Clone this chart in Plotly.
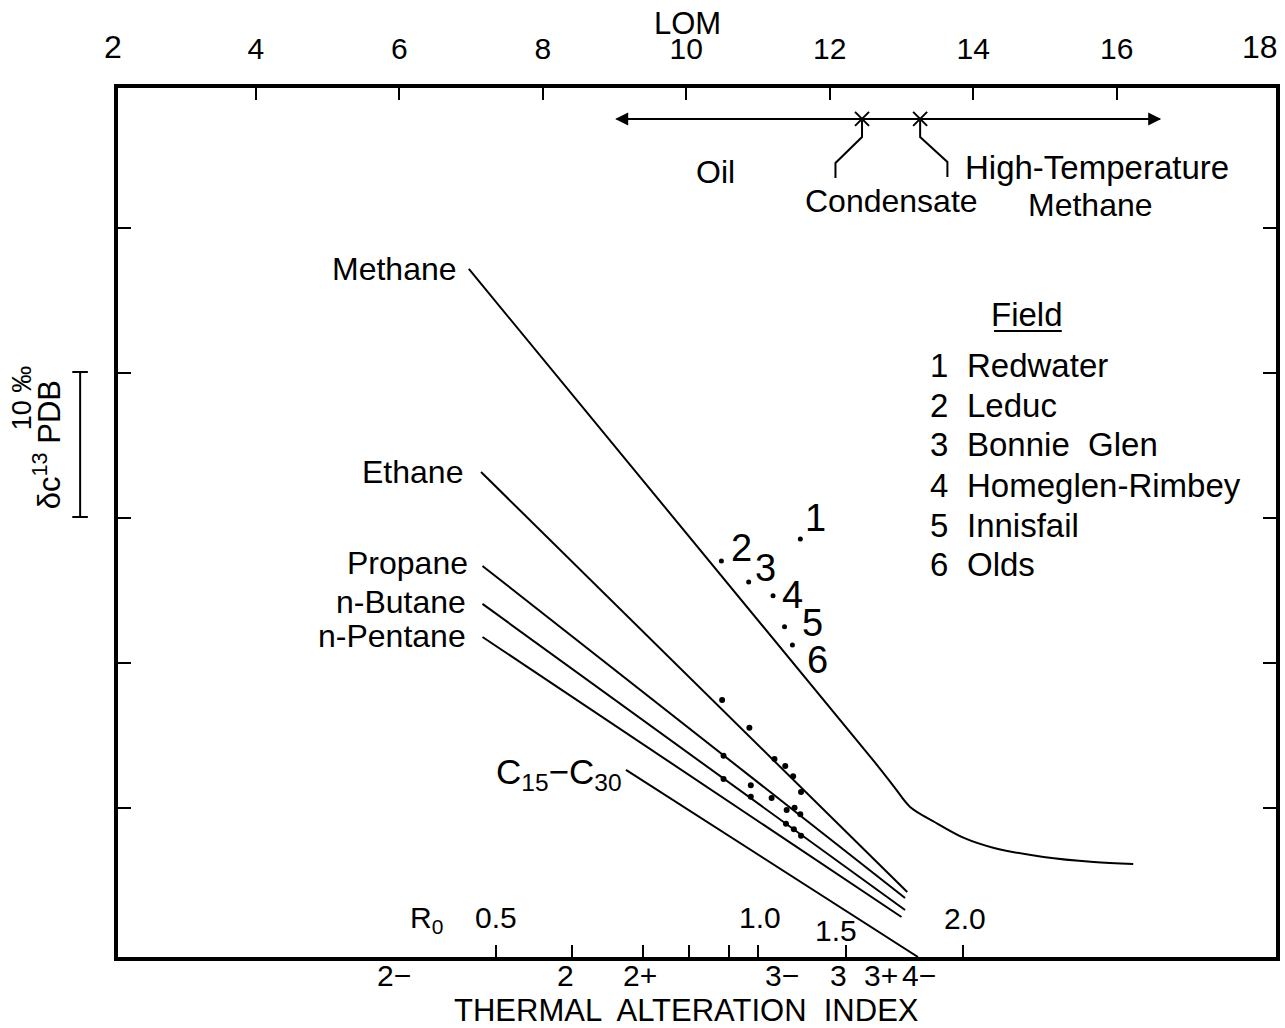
import plotly.graph_objects as go

FONT = "Liberation Sans, Arial, Helvetica, sans-serif"

# ---------------- data (x in LOM units, y in relative delta13C permil) ----------------
lom_tick_vals = [4, 6, 8, 10, 12, 14, 16]
lom_tick_text = ["4", "6", "8", "10", "12", "14", "16"]

ro_values = [0.5, 0.6, 0.7, 0.8, 0.9, 1.0, 1.5, 2.0]
ro_lom_pos = [7.35, 8.41, 9.40, 10.04, 10.59, 11.00, 12.22, 13.86]
ro_labels = ["0.5", "", "", "", "", "1.0", "1.5", "2.0"]

tai_labels = ["2−", "2", "2+", "3−", "3", "3+", "4−"]
tai_lom_pos = [5.93, 8.32, 9.36, 11.33, 12.12, 12.71, 13.24]

d13c_ticks = [10, 20, 30, 40, 50]

methane_x = [6.97, 12.66, 12.90, 13.12, 13.46, 13.87, 14.29, 14.98, 15.68, 16.23]
methane_y = [47.15, 12.94, 11.42, 10.05, 9.01, 7.91, 7.22, 6.60, 6.25, 6.11]
ethane_x = [7.14, 13.08]
ethane_y = [33.15, 4.18]
propane_x = [7.16, 13.05]
propane_y = [26.67, 3.77]
butane_x = [7.16, 13.05]
butane_y = [24.05, 2.94]
pentane_x = [7.16, 13.00]
pentane_y = [21.77, 2.46]
c15_x = [9.16, 13.23]
c15_y = [12.60, -0.3]

sample_x = [10.50, 10.88, 10.52, 11.23, 11.38, 11.49, 10.52, 10.90, 11.60,
            10.90, 11.19, 11.40, 11.51, 11.59, 11.39, 11.50, 11.60]
sample_y = [17.42, 15.51, 13.58, 13.36, 12.87, 12.16, 11.98, 11.54, 11.08,
            10.76, 10.67, 9.84, 10.00, 9.54, 8.89, 8.51, 8.07]

field_ids = ["1", "2", "3", "4", "5", "6"]
field_names = ["Redwater", "Leduc", "Bonnie  Glen", "Homeglen-Rimbey", "Innisfail", "Olds"]
field_x = [11.59, 10.49, 10.87, 11.21, 11.37, 11.48]
field_y = [28.53, 27.01, 25.56, 24.62, 22.48, 21.22]

# maturity zones along LOM
zone_arrow_x = [9.01, 16.62]
zone_y = 57.5
zone_bounds = [12.45, 13.26]
cond_bracket_x = [12.45, 12.45, 12.08, 12.08]
cond_bracket_y = [57.4, 56.25, 54.46, 53.42]
htm_bracket_x = [13.26, 13.26, 13.64, 13.64]
htm_bracket_y = [57.4, 56.25, 54.53, 53.49]

X_RANGE = [2.08, 18.22]
Y_RANGE = [-0.3, 59.63]

fig = go.Figure()

line_style = dict(color="black", width=2)
for xs, ys in [(methane_x, methane_y), (ethane_x, ethane_y), (propane_x, propane_y),
               (butane_x, butane_y), (pentane_x, pentane_y), (c15_x, c15_y)]:
    fig.add_trace(go.Scatter(x=xs, y=ys, mode="lines",
                             line=dict(line_style, shape="spline", smoothing=0.9),
                             hoverinfo="skip", cliponaxis=False))

fig.add_trace(go.Scatter(x=sample_x, y=sample_y, mode="markers",
                         marker=dict(color="black", size=6), hoverinfo="skip"))
fig.add_trace(go.Scatter(x=field_x, y=field_y, mode="markers",
                         marker=dict(color="black", size=5), hoverinfo="skip"))

# brackets and boundary marks of maturity zones
fig.add_trace(go.Scatter(x=cond_bracket_x, y=cond_bracket_y, mode="lines",
                         line=dict(color="black", width=2), hoverinfo="skip"))
fig.add_trace(go.Scatter(x=htm_bracket_x, y=htm_bracket_y, mode="lines",
                         line=dict(color="black", width=2), hoverinfo="skip"))
fig.add_trace(go.Scatter(x=zone_bounds, y=[zone_y, zone_y], mode="markers",
                         marker=dict(symbol="x-thin", size=14, line=dict(color="black", width=2)),
                         hoverinfo="skip"))

# dummy trace for the top axis
fig.add_trace(go.Scatter(x=[10], y=[30], xaxis="x2", mode="markers",
                         marker=dict(opacity=0), hoverinfo="skip"))

ann = []
# arrows
ann.append(dict(x=zone_arrow_x[0], y=zone_y, ax=zone_arrow_x[1], ay=zone_y, xref="x", yref="y",
                axref="x", ayref="y", text="", showarrow=True, arrowhead=2, arrowsize=1.3,
                arrowwidth=2, arrowcolor="black"))
ann.append(dict(x=zone_arrow_x[1], y=zone_y, ax=zone_arrow_x[0], ay=zone_y, xref="x", yref="y",
                axref="x", ayref="y", text="", showarrow=True, arrowhead=2, arrowsize=1.3,
                arrowwidth=2, arrowcolor="black"))


def txt(text, x, y, xref="x", yref="y", size=32, xanchor="center", yanchor="middle",
        xshift=0, yshift=0, angle=0):
    ann.append(dict(text=text, x=x, y=y, xref=xref, yref=yref, showarrow=False,
                    font=dict(size=size, family=FONT, color="black"), xanchor=xanchor,
                    yanchor=yanchor, xshift=xshift, yshift=yshift, textangle=angle))


txt("Oil", 10.41, 53.84)
txt("Condensate", 12.86, 51.84)
txt("High-Temperature", 15.72, 54.18, size=33)
txt("Methane", 15.64, 51.56)

# line labels
txt("Methane", methane_x[0], methane_y[0], xanchor="right", xshift=-10)
txt("Ethane", ethane_x[0], ethane_y[0], xanchor="right", xshift=-16)
txt("Propane", propane_x[0], propane_y[0], xanchor="right", xshift=-12, yshift=3)
txt("n-Butane", butane_x[0], butane_y[0], xanchor="right", xshift=-14, yshift=2)
txt("n-Pentane", pentane_x[0], pentane_y[0], xanchor="right", xshift=-14, yshift=1)
txt("C<sub>15</sub>−C<sub>30</sub>", c15_x[0], c15_y[0], size=35, xanchor="right",
    xshift=-2, yshift=-4)

# field numbers next to points
field_shift = [(15, 21), (20, 13), (17, 14), (19, 1), (28, 4), (25, -15)]
for fid, fx, fy, (sx, sy) in zip(field_ids, field_x, field_y, field_shift):
    txt(fid, fx, fy, size=38, xshift=sx, yshift=sy)

# legend
txt("Field", 0.7849, 0.7388, xref="paper", yref="paper", size=33)
leg_y = [0.6812, 0.6352, 0.5892, 0.5431, 0.4971, 0.4511]
for fid, name, ly in zip(field_ids, field_names, leg_y):
    txt(fid, 0.7091, ly, xref="paper", yref="paper", size=33)
    txt(name, 0.7315, ly, xref="paper", yref="paper", xanchor="left", size=33)

# LOM axis end labels
txt("2", 0.0, 1.0, xref="paper", yref="paper", yanchor="bottom", yshift=21, xshift=-5)
txt("18", 18.0, 1.0, yref="paper", yanchor="bottom", yshift=21)
txt("LOM", 10.02, 1.0, yref="paper", yanchor="middle", yshift=65, size=31)

# Ro labels (inside, above the bottom axis)
ro_shift = {"0.5": (0, 40), "1.0": (2, 40), "1.5": (-10, 27), "2.0": (2, 39)}
for lab, pos in zip(ro_labels, ro_lom_pos):
    if lab:
        sx, sy = ro_shift[lab]
        txt(lab, pos, 0.0, yref="paper", xshift=sx, yshift=sy, size=30)
txt("R<sub>0</sub>", 6.38, 0.0, yref="paper", yshift=38, size=30)

# TAI labels below axis
for lab, pos in zip(tai_labels, tai_lom_pos):
    txt(lab, pos, 0.0, yref="paper", yshift=-18, size=30)
txt("THERMAL  ALTERATION  INDEX", 10.0, 0.0, yref="paper", yshift=-53, size=31)

# y-axis scale label
txt("10 ‰", -0.0826, 0.6433, xref="paper", yref="paper", size=27, angle=-90)
txt("δc<sup>13</sup> PDB", -0.0611, 0.5892, xref="paper", yref="paper", size=31, angle=-90)

shapes = [
    dict(type="line", xref="paper", yref="paper", x0=-0.0327, x1=-0.0327, y0=0.5063, y1=0.6732,
         line=dict(color="black", width=2)),
    dict(type="line", xref="paper", yref="paper", x0=-0.0395, x1=-0.0260, y0=0.5063, y1=0.5063,
         line=dict(color="black", width=2)),
    dict(type="line", xref="paper", yref="paper", x0=-0.0395, x1=-0.0260, y0=0.6732, y1=0.6732,
         line=dict(color="black", width=2)),
    dict(type="line", xref="paper", yref="paper", x0=0.7565, x1=0.8150, y0=0.7204, y1=0.7204,
         line=dict(color="black", width=2)),
]

fig.update_layout(
    width=1285, height=1028,
    margin=dict(l=118, r=5, t=88, b=71, pad=0),
    paper_bgcolor="white", plot_bgcolor="white",
    showlegend=False,
    font=dict(family=FONT, size=30, color="black"),
    annotations=ann, shapes=shapes,
    xaxis=dict(range=X_RANGE, showgrid=False, zeroline=False, showline=True, linewidth=4,
               linecolor="black", ticks="inside", tickvals=ro_lom_pos, ticklen=12, tickwidth=2,
               tickcolor="black", showticklabels=False, mirror=False, fixedrange=True),
    xaxis2=dict(range=X_RANGE, overlaying="x", side="top", anchor="y", showgrid=False,
                zeroline=False, showline=True, linewidth=4, linecolor="black", ticks="inside",
                tickvals=lom_tick_vals, ticktext=lom_tick_text, ticklen=12, tickwidth=2,
                tickcolor="black", tickfont=dict(size=30, family=FONT, color="black"),
                ticklabelstandoff=13),
    yaxis=dict(range=Y_RANGE, showgrid=False, zeroline=False, showline=True, linewidth=4,
               linecolor="black", mirror="ticks", ticks="inside", tickvals=d13c_ticks,
               ticklen=13, tickwidth=2, tickcolor="black", showticklabels=False),
)

fig.write_html("out.html")
